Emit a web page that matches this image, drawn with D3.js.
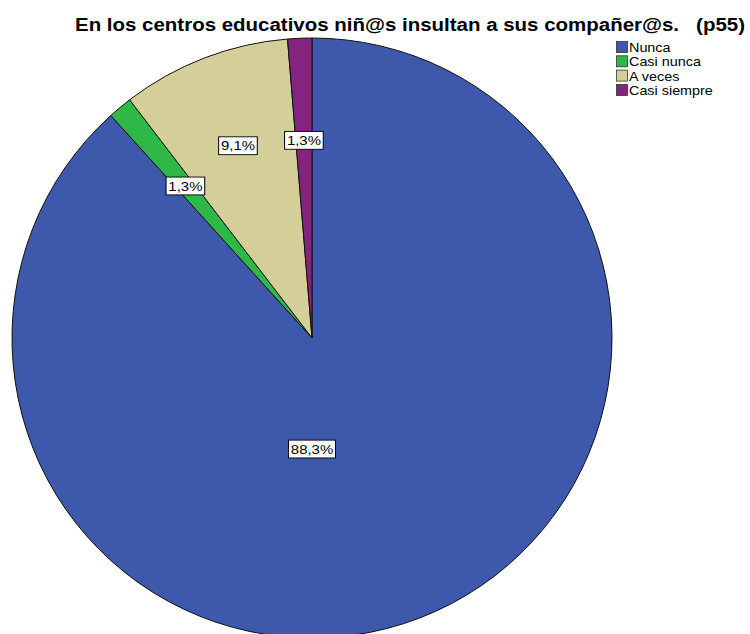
<!DOCTYPE html>
<html><head><meta charset="utf-8">
<script src="https://cdn.jsdelivr.net/npm/d3@7"></script>
<style>body{margin:0;background:#fff}svg{display:block}</style>
</head><body>
<svg id="c" width="750" height="634"></svg>
<script>
const title = "En los centros educativos niñ@s insultan a sus compañer@s.   (p55)";
const categories = ["Nunca", "Casi nunca", "A veces", "Casi siempre"];
const values = [88.3, 1.3, 9.1, 1.3];
const labels = ["88,3%", "1,3%", "9,1%", "1,3%"];
const colors = ["#3E58AC", "#2EB848", "#D4CE99", "#842481"];

const svg = d3.select("#c");
const cx = 312, cy = 338, R = 300;
const SX = 1.15;
const FONT = "Liberation Sans, Arial, sans-serif";

svg.append("text")
  .attr("x", 75).attr("y", 31)
  .attr("font-family", FONT)
  .attr("font-weight", "bold").attr("font-size", 18)
  .attr("fill", "#000")
  .attr("textLength", 670).attr("lengthAdjust", "spacingAndGlyphs")
  .style("white-space", "pre")
  .text(title);

const data = categories.map((c, i) => ({cat: c, value: values[i], label: labels[i], color: colors[i]}));
const total = d3.sum(values);
const pie = d3.pie().sort(null).value(d => d.value);
const arcs = pie(data);
const arc = d3.arc().innerRadius(0).outerRadius(R);

const g = svg.append("g").attr("transform", `translate(${cx},${cy})`);
g.selectAll("path").data(arcs).enter().append("path")
  .attr("d", arc)
  .attr("fill", d => d.data.color)
  .attr("stroke", "#111").attr("stroke-width", 1);

// labels
const lab = g.selectAll("g.lab").data(arcs).enter().append("g").attr("class", "lab")
  .attr("transform", d => {
    const a = (d.startAngle + d.endAngle) / 2;
    let r = R * (0.655 + 0.35 * d.value / total), ang = a;
    if (d.endAngle - d.startAngle > Math.PI) { ang = Math.PI; r = 0.37 * R; }
    return `translate(${r * Math.sin(ang)},${-r * Math.cos(ang)}) scale(${SX},1)`;
  });
lab.each(function(d) {
  const s = d3.select(this);
  const t = s.append("text")
    .attr("text-anchor", "middle").attr("dy", "0.36em")
    .attr("font-family", FONT)
    .attr("font-size", 13).attr("fill", "#000")
    .text(d.data.label);
  const bb = t.node().getBBox();
  s.insert("rect", "text")
    .attr("x", bb.x - 2).attr("y", bb.y - 1.5)
    .attr("width", bb.width + 4).attr("height", bb.height + 3)
    .attr("fill", "#fff").attr("stroke", "#000").attr("stroke-width", 0.9);
});

// legend
const leg = svg.append("g").attr("transform", "translate(616,41)");
const items = leg.selectAll("g").data(data).enter().append("g")
  .attr("transform", (d, i) => `translate(0,${i * 14.3})`);
items.append("rect").attr("x", 0.5).attr("y", 0.5).attr("width", 11).attr("height", 11)
  .attr("fill", d => d.color).attr("stroke", "#333").attr("stroke-width", 0.8);
items.append("text")
  .attr("transform", `translate(13,6.5) scale(${SX},1)`)
  .attr("dy", "0.36em")
  .attr("font-family", FONT)
  .attr("font-size", 12.5).attr("fill", "#000")
  .text(d => d.cat);
</script>
</body></html>
